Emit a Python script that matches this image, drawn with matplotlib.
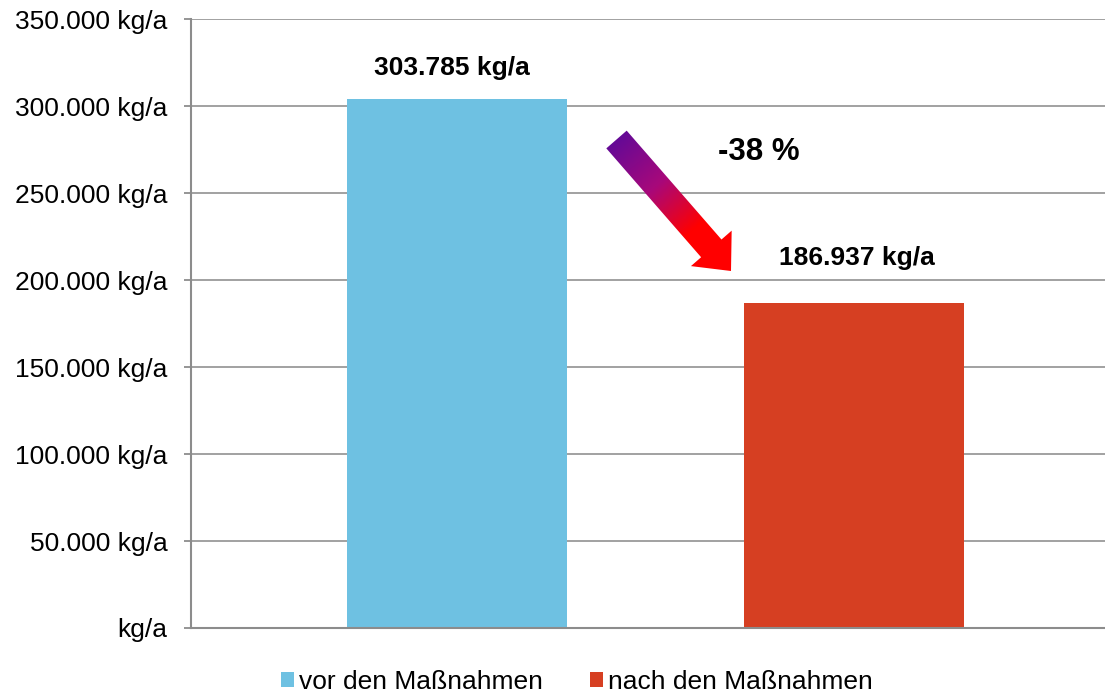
import numpy as np
import matplotlib
matplotlib.use("Agg")
import matplotlib.pyplot as plt
from matplotlib.patches import Polygon, Rectangle
from matplotlib.colors import LinearSegmentedColormap

plt.rcParams['font.family'] = ['Liberation Sans', 'DejaVu Sans']

series = ["vor den Maßnahmen", "nach den Maßnahmen"]
values = [303785, 186937]
value_labels = ["303.785 kg/a", "186.937 kg/a"]
colors = ["#6EC1E2", "#D63F22"]
yticks = [0, 50000, 100000, 150000, 200000, 250000, 300000, 350000]
ytick_labels = ["kg/a", "50.000 kg/a", "100.000 kg/a", "150.000 kg/a",
                "200.000 kg/a", "250.000 kg/a", "300.000 kg/a", "350.000 kg/a"]
change_label = "-38 %"

W, H = 1105, 692
fig = plt.figure(figsize=(W / 100, H / 100), dpi=100)
ax = fig.add_axes([191 / W, 1 - 628 / H, 914 / W, 609 / H])

positions = [0, 1]
ax.bar(positions, values, width=0.555, color=colors, zorder=3)
ax.set_xlim(-0.671, 1.634)
ax.set_ylim(0, 350000)
ax.set_yticks(yticks)
ax.set_yticklabels(ytick_labels, fontsize=19, color="black")
ax.set_xticks([])
ax.yaxis.grid(True, color="#9A9A9A", linewidth=1.3, zorder=0)
ax.tick_params(axis="y", length=5, width=1.3, color="#8C8C8C", pad=12)
for s in ["top", "right"]:
    ax.spines[s].set_visible(False)
for s in ["left", "bottom"]:
    ax.spines[s].set_color("#8C8C8C")
    ax.spines[s].set_linewidth(1.5)
    ax.spines[s].set_zorder(4)

# value labels (offsets in pixels: dx, dy above bar top)
label_offsets = [(-5, 31), (3, 45)]
for p, v, lab, (dx, dy) in zip(positions, values, value_labels, label_offsets):
    ax.annotate(lab, xy=(p, v), xytext=(dx * 0.72, dy * 0.72), textcoords="offset points",
                ha="center", va="center", fontsize=19, fontweight="bold")

# percentage label
fig.text(759 / W, 1 - 152 / H, change_label, ha="center", va="center",
         fontsize=22.5, fontweight="bold")

# gradient arrow (overlay in figure pixel coordinates)
ov = fig.add_axes([0, 0, 1, 1], zorder=5)
ov.set_xlim(0, W)
ov.set_ylim(H, 0)
ov.axis("off")
ov.patch.set_alpha(0)
T = np.array([616.5, 139.5])
P = np.array([731.0, 271.0])
u = (P - T) / np.linalg.norm(P - T)
n = np.array([u[1], -u[0]])
hw, HW, HL = 13.5, 27.0, 30.0
B = P - HL * u
pts = [T + hw * n, B + hw * n, B + HW * n, P, B - HW * n, B - hw * n, T - hw * n]
poly = Polygon(pts, closed=True, facecolor="none", edgecolor="none")
ov.add_patch(poly)
xs = np.linspace(580, 760, 200)
ys = np.linspace(110, 300, 200)
X, Y = np.meshgrid(xs, ys)
L = np.linalg.norm(P - T)
t = ((X - T[0]) * u[0] + (Y - T[1]) * u[1]) / L
cmap = LinearSegmentedColormap.from_list("g", [(0, "#650A96"), (0.35, "#A8087A"),
                                               (0.68, "#FF0000"), (1, "#FF0000")])
im = ov.imshow(t, extent=[580, 760, 300, 110], cmap=cmap, vmin=0, vmax=1,
               origin="upper", interpolation="bilinear", aspect="auto")
im.set_clip_path(poly)
ov.set_xlim(0, W)
ov.set_ylim(H, 0)

# legend
handles = [Rectangle((0, 0), 1, 1, facecolor=c, edgecolor="none") for c in colors]
fig.legend(handles, series, loc="center", bbox_to_anchor=(577 / W, 1 - 682 / H),
           ncol=2, frameon=False, fontsize=19, handlelength=0.5, handleheight=0.5,
           handletextpad=0.2, columnspacing=1.77, borderpad=0)

fig.savefig("out.png", dpi=100)
